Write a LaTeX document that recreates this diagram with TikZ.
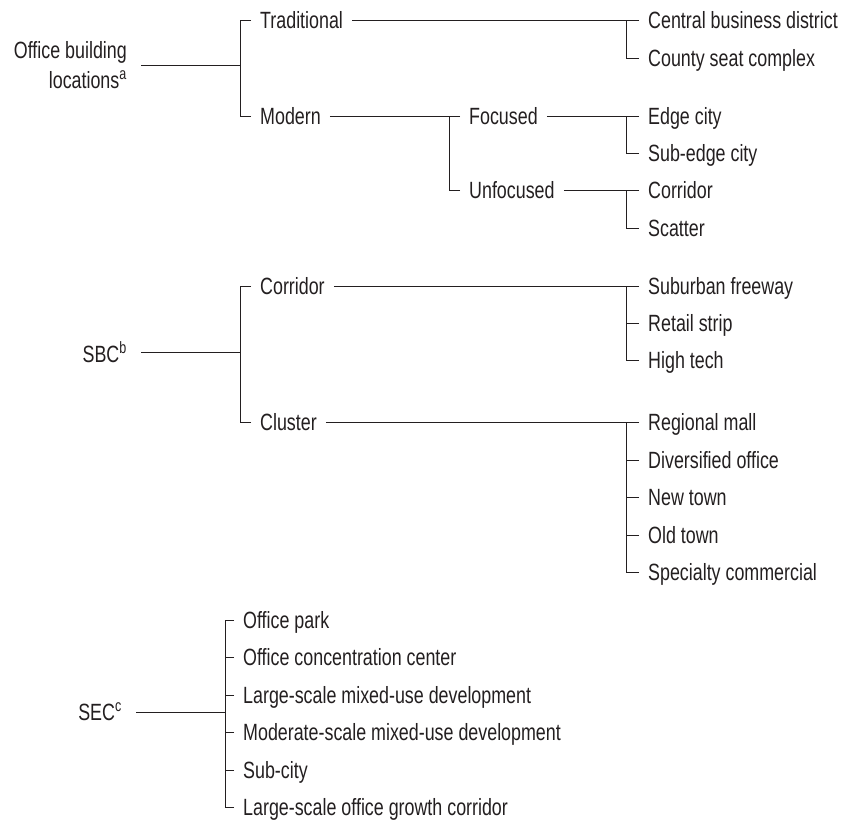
\documentclass[tikz,border=0pt]{standalone}
\usepackage{fontspec}
\setmainfont{Liberation Sans}[FakeStretch=0.76]
\usepackage{tikz}
\usetikzlibrary{positioning}

\definecolor{inkgray}{HTML}{231F20}

\begin{document}
\begin{tikzpicture}[
    x=1pt, y=-1pt,
    font={\fontsize{23.5pt}{30pt}\selectfont},
    item/.style={anchor=west, inner xsep=9pt, text height=17pt, text depth=0pt, text=inkgray},
    root/.style={anchor=east, inner xsep=14pt, align=right, text=inkgray},
    link/.style={draw=inkgray, line width=0.9pt}
]
\useasboundingbox (0,0) rectangle (845,819);
% Office building locations
\node[root] (obl) at (141,65) {Office building\\locations\textsuperscript{a}};
\coordinate (jobl) at (240,65);
\draw[link] (obl.east) -- (jobl);
\node[item] (trad) at (251,20) {Traditional};
\node[item] (modern) at (251,116) {Modern};
\draw[link] (trad.west) -| (jobl);
\draw[link] (modern.west) -| (jobl);
% Traditional
\coordinate (jtrad) at (626,20);
\draw[link] (trad.east) -- (jtrad);
\foreach \name/\y/\txt in {cbd/20/Central business district, csc/58/County seat complex} {
    \node[item] (\name) at (639,\y) {\txt};
    \draw[link] (\name.west) -| (jtrad);
}
% Modern
\coordinate (jmod) at (449,116);
\draw[link] (modern.east) -- (jmod);
\node[item] (focused) at (460,116) {Focused};
\node[item] (unfocused) at (460,190) {Unfocused};
\draw[link] (focused.west) -| (jmod);
\draw[link] (unfocused.west) -| (jmod);
\coordinate (jfoc) at (626,116);
\draw[link] (focused.east) -- (jfoc);
\foreach \name/\y/\txt in {edge/116/Edge city, subedge/153/Sub-edge city} {
    \node[item] (\name) at (639,\y) {\txt};
    \draw[link] (\name.west) -| (jfoc);
}
\coordinate (junf) at (626,190);
\draw[link] (unfocused.east) -- (junf);
\foreach \name/\y/\txt in {corr/190/Corridor, scatter/228/Scatter} {
    \node[item] (\name) at (639,\y) {\txt};
    \draw[link] (\name.west) -| (junf);
}
% SBC
\node[root] (sbc) at (141,352) {SBC\textsuperscript{b}};
\coordinate (jsbc) at (240,352);
\draw[link] (sbc.east) -- (jsbc);
\node[item] (corridor) at (251,286) {Corridor};
\node[item] (cluster) at (251,422) {Cluster};
\draw[link] (corridor.west) -| (jsbc);
\draw[link] (cluster.west) -| (jsbc);
\coordinate (jcorr) at (626,286);
\draw[link] (corridor.east) -- (jcorr);
\foreach \name/\y/\txt in {freeway/286/Suburban freeway, retail/323/Retail strip, hitech/360/High tech} {
    \node[item] (\name) at (639,\y) {\txt};
    \draw[link] (\name.west) -| (jcorr);
}
\coordinate (jclus) at (626,422);
\draw[link] (cluster.east) -- (jclus);
\foreach \name/\y/\txt in {mall/422/Regional mall, divoff/460/Diversified office, newtown/497/New town,
    oldtown/535/Old town, special/572/Specialty commercial} {
    \node[item] (\name) at (639,\y) {\txt};
    \draw[link] (\name.west) -| (jclus);
}
% SEC
\node[root] (sec) at (136,712) {SEC\textsuperscript{c}};
\coordinate (jsec) at (225,712);
\draw[link] (sec.east) -- (jsec);
\foreach \name/\y/\txt in {park/620/Office park, conc/657/Office concentration center,
    lmixed/695/Large-scale mixed-use development, mmixed/732/Moderate-scale mixed-use development,
    subcity/770/Sub-city, growth/807/Large-scale office growth corridor} {
    \node[item] (\name) at (234,\y) {\txt};
    \draw[link] (\name.west) -| (jsec);
}
\end{tikzpicture}
\end{document}
